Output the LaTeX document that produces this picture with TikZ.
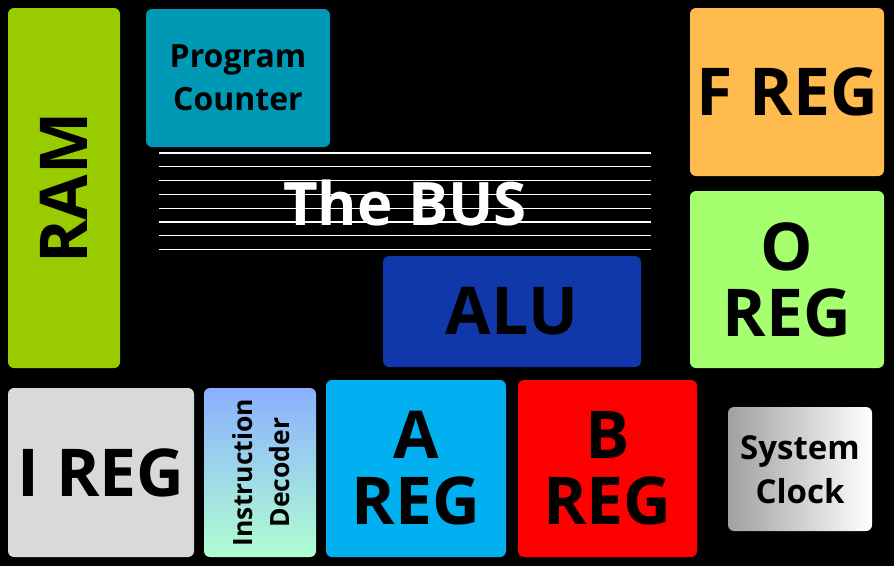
\documentclass[tikz,border=0pt]{standalone}
\usepackage{fontspec}
\setmainfont{Open Sans}
\usepackage{tikz}
\usetikzlibrary{calc}

\begin{document}
\begin{tikzpicture}[x=1pt, y=-1pt, box/.style = {rounded corners=6pt, inner sep=0pt, align=center, font=\bfseries},
    big/.style = {font=\bfseries\fontsize{66}{66}\selectfont}]
    \fill[black] (0, 0) rectangle (894, 566);
    \useasboundingbox (0, 0) rectangle (894, 566);

    % the bus
    \foreach \y in {153, 166.8, 180.6, 194.4, 208.2, 222, 235.8, 249.6}
        \draw[white, line width=1.3pt] (159, \y) -- (651, \y);
    \node [text=white, font=\bfseries\fontsize{60}{60}\selectfont] (bus) at (405, 203) {The BUS};

    \node [box, big, fill={rgb,255:red,153;green,204;blue,0}, minimum width=112, minimum height=360] (ram) at (64, 188) {};
    \node [big, rotate=90] (ramlabel) at (ram.center) {RAM};
    \node [box, fill={rgb,255:red,0;green,153;blue,181}, minimum width=184, minimum height=138,
        font=\bfseries\fontsize{32}{43}\selectfont] (pc) at (238, 78) {Program\\Counter};
    \node [box, big, fill={rgb,255:red,255;green,187;blue,77}, minimum width=194, minimum height=168] (freg) at (787, 92) {F REG};
    \node [box, big, fill={rgb,255:red,166;green,255;blue,110}, minimum width=194, minimum height=177] (oreg) at (787, 279.5) {O\\REG};
    \node [box, big, fill={rgb,255:red,16;green,56;blue,170}, minimum width=258, minimum height=111] (alu) at (512, 311.5) {ALU};

    \node [box, big, fill={rgb,255:red,217;green,217;blue,217}, minimum width=186, minimum height=169] (ireg) at (101, 472.5) {I REG};
    \shade[top color={rgb,255:red,138;green,176;blue,255}, bottom color={rgb,255:red,176;green,255;blue,208}, rounded corners=6pt]
        (204, 388) rectangle (316, 557);
    \node [box, rotate=90, font=\bfseries\fontsize{26.5}{37}\selectfont] (decoder) at (261, 472.5) {Instruction\\Decoder};
    \node [box, big, fill={rgb,255:red,0;green,176;blue,240}, minimum width=180, minimum height=177] (areg) at (416, 468.5) {A\\REG};
    \node [box, big, fill={rgb,255:red,255;green,0;blue,0}, minimum width=179, minimum height=177] (breg) at (607.5, 468.5) {B\\REG};
    \shade[left color={rgb,255:red,160;green,160;blue,160}, right color=white, rounded corners=6pt]
        (728, 407) rectangle (872, 531);
    \node [box, font=\bfseries\fontsize{33}{44}\selectfont] (clock) at (800, 470) {System\\Clock};

\end{tikzpicture}
\end{document}
